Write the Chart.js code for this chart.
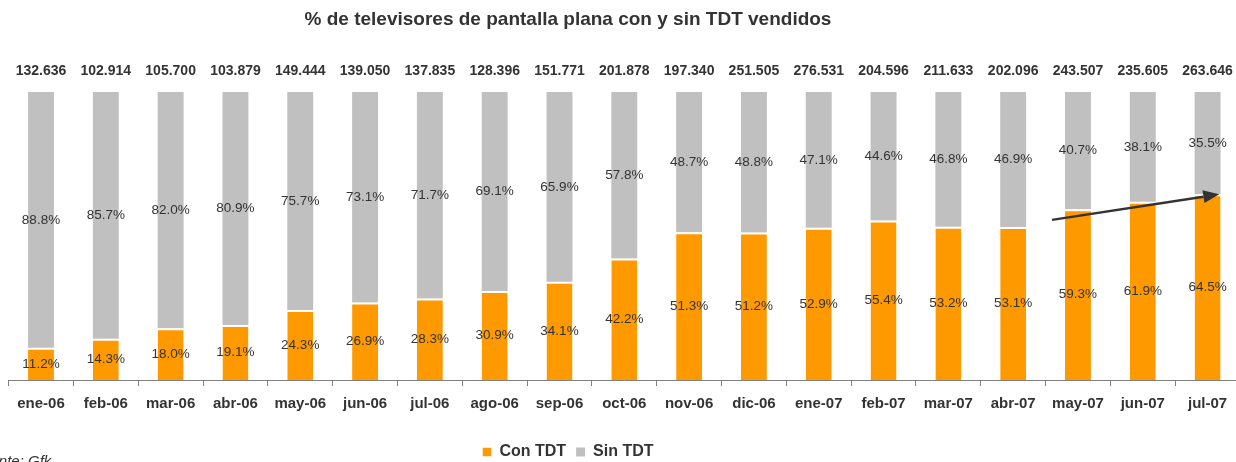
<!DOCTYPE html>
<html>
<head>
<meta charset="utf-8">
<script src="https://cdn.jsdelivr.net/npm/chart.js@4/dist/chart.umd.min.js"></script>
<style>
  html, body { margin: 0; padding: 0; background: #fff; overflow: hidden; width: 1236px; height: 462px; }
  #wrap { position: absolute; left: -104px; top: 0; width: 1344px; height: 470px; }
</style>
</head>
<body>
<div id="wrap"><canvas id="chart"></canvas></div>
<script>
const months = ['ene-06', 'feb-06', 'mar-06', 'abr-06', 'may-06', 'jun-06', 'jul-06', 'ago-06', 'sep-06', 'oct-06',
    'nov-06', 'dic-06', 'ene-07', 'feb-07', 'mar-07', 'abr-07', 'may-07', 'jun-07', 'jul-07']
const totals = [132636, 102914, 105700, 103879, 149444, 139050, 137835, 128396, 151771, 201878,
    197340, 251505, 276531, 204596, 211633, 202096, 243507, 235605, 263646]
const conTDT = [11.2, 14.3, 18.0, 19.1, 24.3, 26.9, 28.3, 30.9, 34.1, 42.2, 51.3, 51.2, 52.9, 55.4, 53.2, 53.1, 59.3, 61.9, 64.5]
const sinTDT = [88.8, 85.7, 82.0, 80.9, 75.7, 73.1, 71.7, 69.1, 65.9, 57.8, 48.7, 48.8, 47.1, 44.6, 46.8, 46.9, 40.7, 38.1, 35.5]

// trend arrow, in data units (category index, percent)
const arrowFrom = { x: 15.6, y: 55.6 }
const arrowTo = { x: 18.18, y: 64.5 }

const ORANGE = '#FF9900'
const GREY = '#C0C0C0'
const TEXT = '#333333'
const FONT = '"Liberation Sans", Arial, sans-serif'

const fmtThousands = n => String(n).replace(/\B(?=(\d{3})+(?!\d))/g, '.')

const labelsPlugin = {
    id: 'barLabels',
    afterDatasetsDraw(chart) {
        const { ctx } = chart
        ctx.save()
        ctx.textAlign = 'center'
        ctx.textBaseline = 'middle'
        ctx.fillStyle = TEXT
        ctx.font = '13.5px ' + FONT
        chart.data.datasets.forEach((ds, di) => {
            const meta = chart.getDatasetMeta(di)
            meta.data.forEach((bar, i) => {
                const y = (bar.y + bar.base) / 2
                ctx.fillText(ds.data[i].toFixed(1) + '%', bar.x, y)
            })
        })
        // totals above each column
        const top = chart.getDatasetMeta(1)
        ctx.font = 'bold 14px ' + FONT
        top.data.forEach((bar, i) => {
            ctx.fillText(fmtThousands(totals[i]), bar.x, bar.y - 21)
        })

        // arrow
        const xs = chart.scales.x, ys = chart.scales.y
        const x1 = xs.getPixelForValue(arrowFrom.x), y1 = ys.getPixelForValue(arrowFrom.y)
        const x2 = xs.getPixelForValue(arrowTo.x), y2 = ys.getPixelForValue(arrowTo.y)
        const ang = Math.atan2(y2 - y1, x2 - x1)
        const len = 16, half = 6.5
        const bx = x2 - len * Math.cos(ang), by = y2 - len * Math.sin(ang)
        ctx.strokeStyle = TEXT
        ctx.fillStyle = TEXT
        ctx.lineWidth = 2.5
        ctx.beginPath()
        ctx.moveTo(x1, y1)
        ctx.lineTo(bx, by)
        ctx.stroke()
        ctx.beginPath()
        ctx.moveTo(x2, y2)
        ctx.lineTo(bx + half * Math.sin(ang), by - half * Math.cos(ang))
        ctx.lineTo(bx - half * Math.sin(ang), by + half * Math.cos(ang))
        ctx.closePath()
        ctx.fill()

        // source note (partly off the page, as in the original)
        ctx.font = 'italic 15px ' + FONT
        ctx.textAlign = 'left'
        ctx.textBaseline = 'alphabetic'
        ctx.fillText('Fuente: Gfk', 77, 466)
        ctx.restore()
    }
}

new Chart(document.getElementById('chart'), {
    type: 'bar',
    data: {
        labels: months,
        datasets: [
            {
                label: 'Con TDT', data: conTDT, backgroundColor: ORANGE,
                borderColor: '#ffffff', borderWidth: { top: 2 }, borderSkipped: false
            },
            { label: 'Sin TDT', data: sinTDT, backgroundColor: GREY, borderWidth: 0 }
        ]
    },
    options: {
        responsive: true,
        maintainAspectRatio: false,
        animation: false,
        events: [],
        layout: { padding: 0 },
        datasets: { bar: { barPercentage: 0.4, categoryPercentage: 1 } },
        scales: {
            x: {
                stacked: true,
                grid: { display: true, drawOnChartArea: false, drawTicks: true, tickLength: 6, color: '#808080', offset: true },
                border: { display: true, color: '#808080', width: 1 },
                ticks: {
                    color: TEXT, padding: 9,
                    font: { family: FONT, size: 15, weight: 'bold' }
                },
                afterFit(scale) { scale.height = 54 }
            },
            y: {
                stacked: true, min: 0, max: 100,
                grid: { display: false },
                border: { display: false },
                ticks: { display: false },
                afterFit(scale) { scale.width = 112.6 }
            }
        },
        plugins: {
            title: {
                display: true,
                text: '% de televisores de pantalla plana con y sin TDT vendidos',
                color: TEXT,
                font: { family: FONT, size: 19, weight: 'bold' },
                padding: { top: 8, bottom: 61.2 }
            },
            legend: {
                position: 'bottom',
                labels: {
                    color: TEXT, boxWidth: 9, boxHeight: 9, padding: 10,
                    font: { family: FONT, size: 16, weight: 'bold' }
                }
            },
            tooltip: { enabled: false }
        }
    },
    plugins: [labelsPlugin]
})
</script>
</body>
</html>
